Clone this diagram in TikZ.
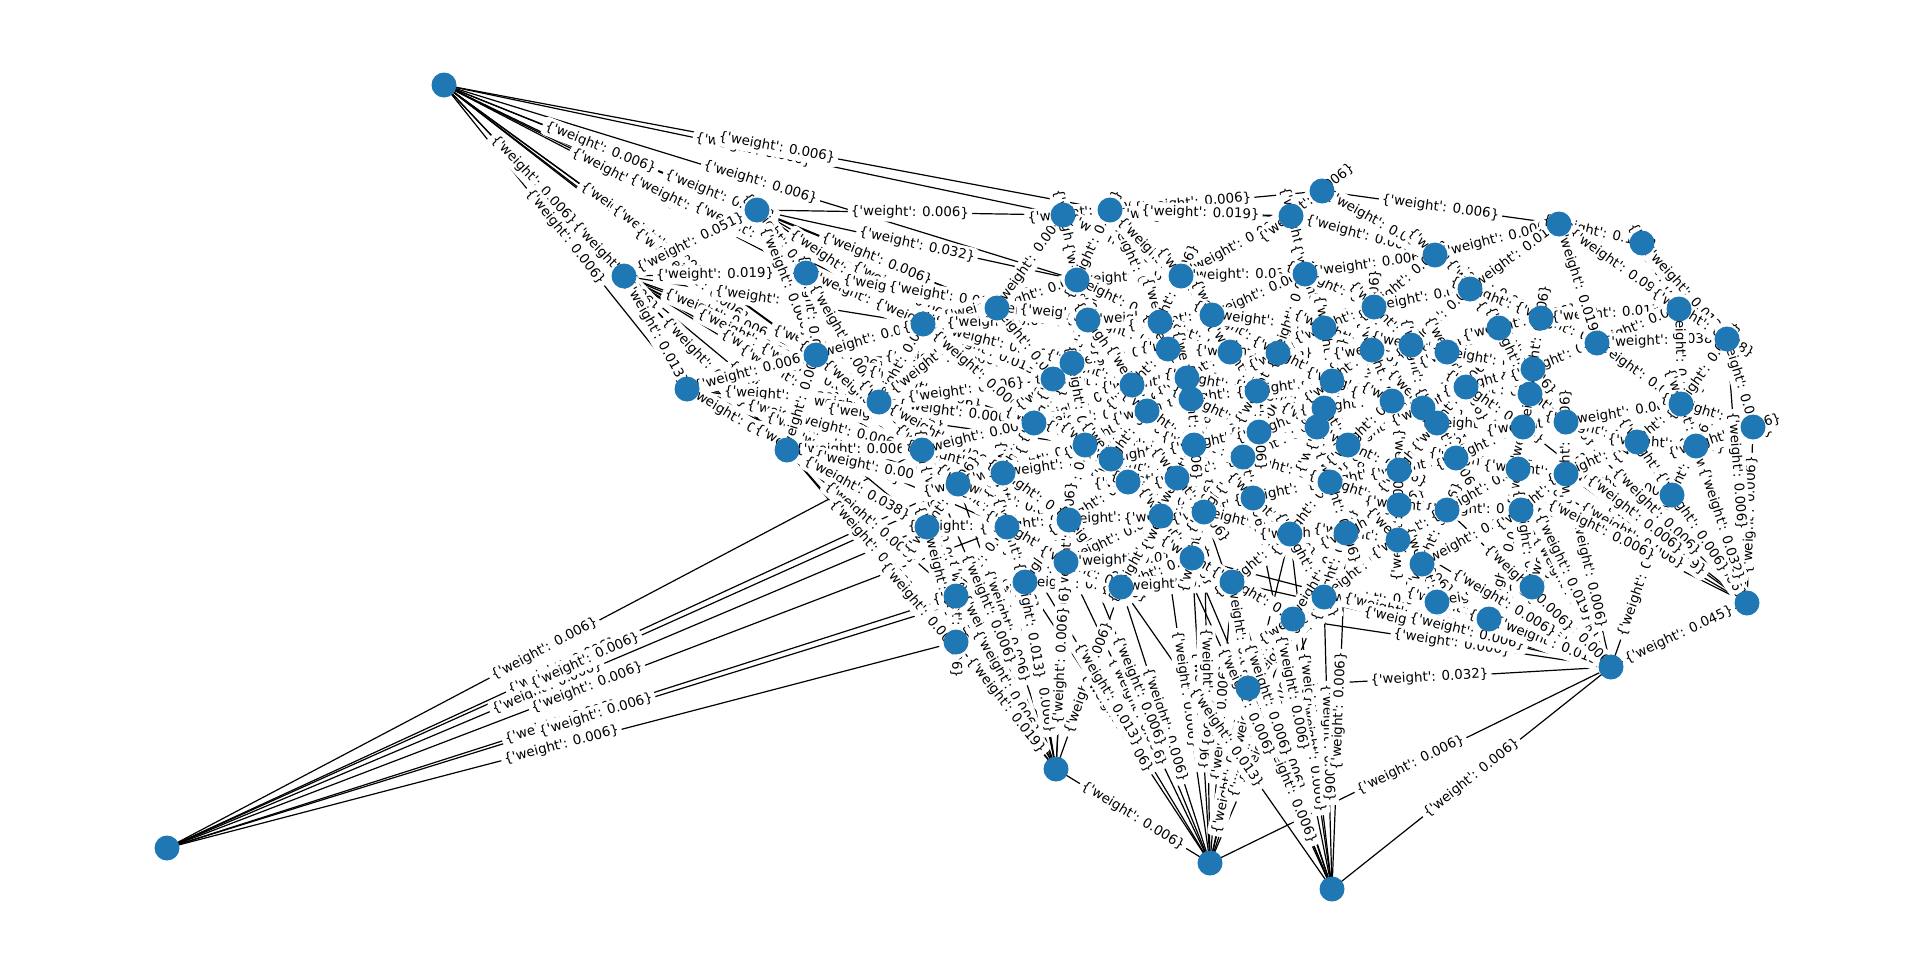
\documentclass[tikz,border=0pt]{standalone}
\usepackage{fontspec}
\setmainfont{DejaVu Sans}
\usetikzlibrary{backgrounds}

\definecolor{nxblue}{HTML}{1F77B4}
\newcommand{\wt}[1]{\{\textquotesingle weight\textquotesingle: #1\}}

% vertex positions (pixels, y down)
\newcommand{\vertexlist}{1/444/85, 2/167/848, 3/624/276, 4/687/389, 5/757/210, 6/806/273,
  7/816/355, 8/879/402, 9/787/450, 10/923/324, 11/922/450, 12/958/484, 13/927/527,
  14/956/596, 15/956/642, 16/1003/473, 17/1007/527, 18/1025/582, 19/1034/423,
  20/1053/379, 21/1072/363, 22/997/308, 23/1063/215, 24/1077/280, 25/1088/320,
  26/1085/445, 27/1069/520, 28/1066/562, 29/1056/769, 30/1110/210, 31/1111/459,
  32/1128/482, 33/1121/587, 34/1132/385, 35/1147/411, 36/1160/322, 37/1168/349,
  38/1161/516, 39/1177/478, 40/1181/276, 41/1187/378, 42/1191/399, 43/1194/445,
  44/1192/558, 45/1204/512, 46/1212/315, 47/1210/863, 48/1230/352, 49/1232/582,
  50/1243/457, 51/1253/498, 52/1248/688, 53/1257/391, 54/1259/432, 55/1278/353,
  56/1290/534, 57/1291/216, 58/1293/619, 59/1305/274, 60/1317/427, 61/1322/191,
  62/1324/328, 63/1324/408, 64/1324/597, 65/1330/482, 66/1332/381, 67/1332/889,
  68/1346/533, 69/1348/445, 70/1372/350, 71/1374/307, 72/1392/401, 73/1399/470,
  74/1399/505, 75/1398/540, 76/1411/345, 77/1422/564, 78/1423/408, 79/1435/255,
  80/1437/423, 81/1437/602, 82/1447/352, 83/1447/510, 84/1456/458, 85/1466/387,
  86/1470/289, 87/1489/619, 88/1499/328, 89/1518/469, 90/1521/510, 91/1523/427,
  92/1530/394, 93/1532/587, 94/1533/369, 95/1541/318, 96/1559/224, 97/1566/474,
  98/1566/422, 99/1597/343, 100/1611/667, 101/1637/442, 102/1642/243, 103/1672/495,
  104/1679/309, 105/1681/404, 106/1696/446, 107/1727/339, 108/1747/603, 109/1753/427}

% edges with weights
\newcommand{\edgelist}{1/3/0.006, 1/4/0.006, 1/5/0.006, 1/6/0.006, 1/7/0.006, 1/8/0.006,
  1/10/0.006, 1/22/0.006, 1/23/0.006, 1/30/0.006, 1/9/0.006, 1/11/0.006, 1/12/0.006,
  1/20/0.006, 1/24/0.006,
  2/11/0.006, 2/12/0.006, 2/13/0.006, 2/14/0.006, 2/15/0.006, 2/16/0.006, 2/17/0.006, 2/18/0.006,
  3/5/0.051, 3/4/0.013, 3/6/0.019, 3/7/0.006, 3/8/0.006, 3/9/0.006, 3/10/0.006, 3/11/0.006,
  3/12/0.006, 3/13/0.006, 3/16/0.006, 3/19/0.006,
  4/7/0.006, 4/8/0.038, 4/9/0.013, 4/11/0.006, 4/12/0.006, 4/13/0.006, 4/16/0.006,
  4/17/0.006, 4/19/0.006, 4/26/0.006,
  5/6/0.006, 5/10/0.006, 5/23/0.006, 5/22/0.006, 5/24/0.032, 5/7/0.006, 5/20/0.006,
  6/7/0.006, 6/10/0.025, 6/22/0.006, 6/8/0.006, 6/20/0.006, 6/25/0.006,
  7/8/0.006, 7/10/0.013, 7/9/0.006, 7/11/0.006, 7/19/0.006, 7/21/0.006,
  8/10/0.032, 8/11/0.013, 8/12/0.006, 8/19/0.006, 8/20/0.006, 8/22/0.006, 8/16/0.006,
  9/11/0.006, 9/12/0.006, 9/13/0.038, 9/14/0.006, 9/15/0.006,
  10/22/0.006, 10/20/0.013, 10/21/0.006, 10/24/0.006, 10/19/0.006, 10/25/0.006,
  11/12/0.006, 11/13/0.006, 11/16/0.006, 11/19/0.006, 11/14/0.006,
  12/13/0.006, 12/16/0.006, 12/17/0.006, 12/26/0.032, 12/27/0.006,
  13/14/0.013, 13/17/0.006, 13/15/0.006,
  14/15/0.006, 14/18/0.006, 14/17/0.019,
  15/18/0.006, 15/28/0.006,
  16/17/0.006, 16/19/0.006, 16/26/0.006, 16/27/0.006, 16/31/0.006,
  17/18/0.006, 17/27/0.006, 17/28/0.006,
  18/28/0.006, 18/33/0.006, 18/27/0.006,
  19/20/0.006, 19/26/0.006, 19/21/0.006, 19/34/0.006, 19/35/0.006,
  20/21/0.006, 20/25/0.006, 20/34/0.006, 20/22/0.006,
  21/25/0.006, 21/34/0.013, 21/37/0.006, 21/26/0.006,
  22/24/0.006, 22/25/0.006, 22/23/0.006, 22/36/0.006,
  23/30/0.006, 23/24/0.006, 23/40/0.006, 23/61/0.006, 23/57/0.025,
  24/25/0.006, 24/40/0.006, 24/36/0.006, 24/30/0.019,
  25/36/0.006, 25/37/0.006, 25/34/0.006, 25/46/0.006,
  26/31/0.006, 26/32/0.006, 26/35/0.006, 26/43/0.006, 26/27/0.006,
  27/28/0.006, 27/32/0.006, 27/38/0.006, 27/33/0.006,
  28/33/0.006, 28/38/0.006, 28/44/0.019,
  29/13/0.006, 29/14/0.006, 29/15/0.019, 29/17/0.006, 29/18/0.006, 29/27/0.006,
  29/28/0.006, 29/12/0.006, 29/16/0.013, 29/47/0.006, 29/11/0.006, 29/33/0.006, 29/9/0.006,
  30/40/0.006, 30/57/0.019, 30/36/0.006, 30/46/0.006,
  31/32/0.006, 31/39/0.006, 31/43/0.006, 31/35/0.006,
  32/38/0.006, 32/39/0.006, 32/45/0.006,
  33/44/0.006, 33/38/0.006, 33/49/0.006,
  34/35/0.006, 34/41/0.006, 34/37/0.006,
  35/42/0.006, 35/43/0.006,
  36/37/0.006, 36/46/0.006, 36/48/0.006, 36/40/0.006,
  37/41/0.006, 37/48/0.006,
  38/45/0.006, 38/44/0.006, 38/39/0.006,
  39/43/0.006, 39/45/0.006, 39/50/0.006,
  40/46/0.006, 40/57/0.006, 40/59/0.032,
  41/42/0.006, 41/48/0.006, 41/53/0.006,
  42/43/0.006, 42/53/0.006, 42/54/0.006,
  43/50/0.006, 43/54/0.006,
  44/49/0.006, 44/45/0.006,
  45/51/0.006, 45/50/0.006, 45/56/0.006,
  46/48/0.006, 46/55/0.006, 46/59/0.006, 46/62/0.006,
  47/28/0.006, 47/33/0.006, 47/38/0.006, 47/44/0.006, 47/49/0.006, 47/27/0.006,
  47/18/0.006, 47/52/0.006, 47/58/0.006, 47/56/0.006, 47/100/0.006, 47/64/0.006,
  47/45/0.006, 47/17/0.013,
  48/55/0.006, 48/53/0.006,
  49/56/0.006, 49/58/0.006, 49/52/0.006,
  50/51/0.006, 50/54/0.006, 50/60/0.006, 50/65/0.006,
  51/56/0.006, 51/65/0.006,
  52/58/0.006, 52/64/0.006,
  53/54/0.006, 53/55/0.006, 53/63/0.006, 53/66/0.006,
  54/60/0.025, 54/63/0.006,
  55/62/0.006, 55/66/0.006, 55/59/0.006,
  56/64/0.006, 56/65/0.006, 56/68/0.006,
  57/59/0.006, 57/61/0.006, 57/79/0.006,
  58/64/0.006, 58/68/0.006,
  59/62/0.006, 59/71/0.006, 59/79/0.006,
  60/63/0.006, 60/69/0.006, 60/65/0.006,
  61/79/0.006, 61/96/0.006,
  62/71/0.006, 62/70/0.006, 62/66/0.006,
  63/66/0.006, 63/72/0.006, 63/69/0.006,
  64/68/0.006, 64/75/0.006, 64/81/0.006,
  65/73/0.006, 65/74/0.006, 65/68/0.006,
  66/70/0.006, 66/72/0.006,
  67/44/0.006, 67/49/0.006, 67/52/0.006, 67/56/0.006, 67/58/0.006, 67/64/0.006,
  67/45/0.006, 67/51/0.006, 67/38/0.006, 67/100/0.006, 67/33/0.013, 67/68/0.006,
  68/75/0.006, 68/74/0.006,
  69/73/0.006, 69/78/0.006, 69/72/0.006,
  70/76/0.006, 70/71/0.006, 70/72/0.006,
  71/76/0.006, 71/79/0.006, 71/86/0.006,
  72/78/0.006, 72/80/0.006,
  73/74/0.006, 73/84/0.006, 73/80/0.006,
  74/75/0.006, 74/83/0.006,
  75/77/0.006, 75/83/0.006,
  76/82/0.006, 76/86/0.006, 76/78/0.006,
  77/81/0.006, 77/83/0.006, 77/90/0.006,
  78/80/0.006, 78/85/0.006,
  79/86/0.006, 79/96/0.006, 79/95/0.019,
  80/84/0.006, 80/85/0.006, 80/91/0.006,
  81/87/0.006, 81/93/0.006,
  82/85/0.006, 82/88/0.006, 82/94/0.006,
  83/90/0.006, 83/89/0.006,
  84/89/0.006, 84/91/0.006,
  85/92/0.006, 85/94/0.006, 85/91/0.006,
  86/88/0.006, 86/95/0.006, 86/96/0.019,
  87/93/0.006, 87/90/0.019,
  88/95/0.006, 88/94/0.006, 88/92/0.057,
  89/90/0.006, 89/97/0.006, 89/91/0.006,
  90/93/0.006, 90/97/0.006,
  91/98/0.006, 91/92/0.006,
  92/94/0.006, 92/98/0.006,
  93/97/0.006,
  94/99/0.006, 94/95/0.006,
  95/99/0.006, 95/104/0.013,
  96/102/0.108, 96/104/0.096, 96/99/0.019,
  97/98/0.006, 97/103/0.006, 97/101/0.006,
  98/101/0.006, 98/105/0.006,
  99/104/0.089, 99/105/0.006, 99/107/0.038,
  100/44/0.006, 100/49/0.006, 100/58/0.006, 100/64/0.006, 100/77/0.006, 100/81/0.006,
  100/87/0.013, 100/90/0.006, 100/93/0.006, 100/83/0.006, 100/75/0.006, 100/89/0.019,
  100/108/0.045, 100/97/0.006, 100/103/0.006, 100/52/0.032,
  101/105/0.006, 101/106/0.006, 101/103/0.006,
  102/104/0.013, 102/107/0.013,
  103/106/0.006, 103/108/0.006,
  104/107/0.038, 104/105/0.006,
  105/106/0.006, 105/109/0.006, 105/107/0.006,
  106/109/0.006,
  107/109/0.019,
  108/109/0.006, 108/105/0.006, 108/106/0.032, 108/101/0.006, 108/97/0.019,
  108/89/0.006, 108/107/0.006, 108/98/0.006, 108/91/0.006, 108/84/0.006}

\begin{document}
\begin{tikzpicture}[x=1pt, y=-1pt,
    vtx/.style={circle, fill=nxblue, minimum size=25pt, inner sep=0pt},
    link/.style={line width=1.2pt, black},
    wlabel/.style={midway, sloped, fill=white, rounded corners=4pt, inner sep=3pt,
      font=\fontsize{13.4}{15}\selectfont}]

  \useasboundingbox (0,0) rectangle (1920,975);

  % Vertices
  \foreach \i/\x/\y in \vertexlist
    \node[vtx] (n\i) at (\x,\y) {};

  \begin{pgfonlayer}{background}
    % Edges
    \foreach \a/\b/\w in \edgelist
      \draw[link] (n\a.center) -- (n\b.center);
    % Edge labels
    \foreach \a/\b/\w in \edgelist
      \path (n\a.center) -- (n\b.center) node[wlabel] {\wt{\w}};
  \end{pgfonlayer}

\end{tikzpicture}
\end{document}
